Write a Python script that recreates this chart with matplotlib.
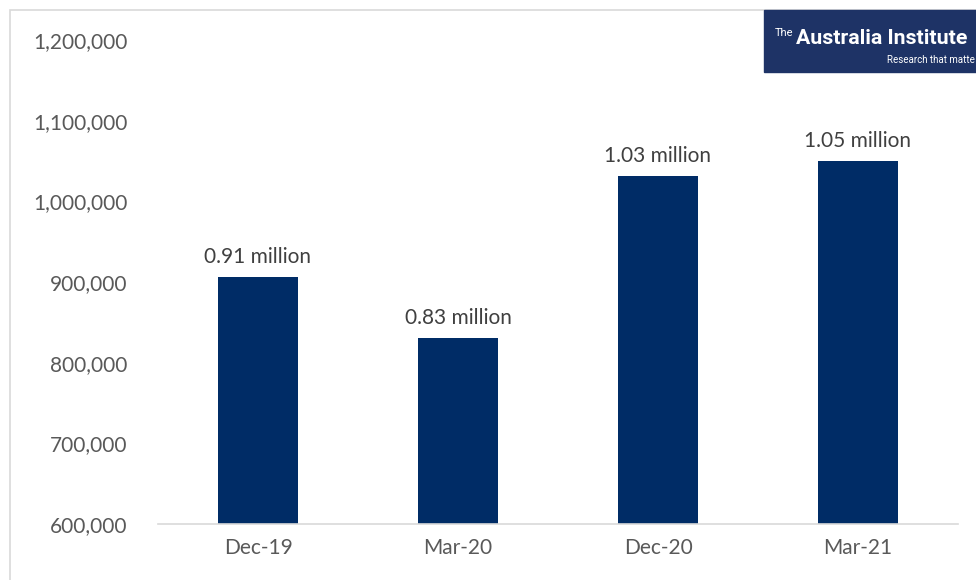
import matplotlib.pyplot as plt
from matplotlib.patches import Rectangle
from matplotlib.ticker import FuncFormatter

# Data
quarters = ["Dec-19", "Mar-20", "Dec-20", "Mar-21"]
workers = [906000, 831000, 1032000, 1050000]
labels = ["0.91 million", "0.83 million", "1.03 million", "1.05 million"]

plt.rcParams['font.family'] = ['Lato', 'DejaVu Sans']

fig = plt.figure(figsize=(9.76, 5.8), dpi=100)
W, H = 976, 580

# outer light grey frame
fig.patches.append(Rectangle((10 / W, -0.05), 1.2, 1.05 - 10 / H,
                             transform=fig.transFigure, fill=False,
                             edgecolor="#d9d9d9", linewidth=1.2))

ax = fig.add_axes([158 / W, 1 - 524 / H, 800 / W, (524 - 40) / H])
x = range(len(quarters))
bars = ax.bar(x, workers, width=0.4, color="#002c66", zorder=2)
for b, lab in zip(bars, labels):
    ax.text(b.get_x() + b.get_width() / 2, b.get_height() + 12000, lab,
            ha="center", va="bottom", fontsize=15, color="#404040")

ax.set_xlim(-0.5, 3.5)
ax.set_ylim(600000, 1200000)
ax.set_yticks(range(600000, 1200001, 100000))
ax.yaxis.set_major_formatter(FuncFormatter(lambda v, p: f"{int(v):,}"))
ax.set_xticks(list(x))
ax.set_xticklabels(quarters)
ax.tick_params(axis="both", length=0, labelsize=15, labelcolor="#595959")
ax.tick_params(axis="y", pad=22)
ax.tick_params(axis="x", pad=10)
for s in ["top", "right", "left"]:
    ax.spines[s].set_visible(False)
ax.spines["bottom"].set_color("#d9d9d9")
ax.spines["bottom"].set_linewidth(1.2)
ax.patch.set_alpha(0)

# logo box
fig.patches.append(Rectangle((764 / W, 1 - 72 / H), 0.3, 62 / H,
                             transform=fig.transFigure, color="#1e3366", zorder=5))
fig.text(775 / W, 1 - 33 / H, "The", fontsize=8, color="white",
         ha="left", va="center", zorder=6, family="Roboto")
fig.text(796 / W, 1 - 38 / H, "Australia Institute", fontsize=15.3, color="white",
         ha="left", va="center", zorder=6, family="Roboto", fontweight="bold")
fig.text(975 / W, 1 - 60 / H, "Research that matte", fontsize=7, color="white",
         ha="right", va="center", zorder=6, family="Roboto")

fig.savefig("out.png", dpi=100)
